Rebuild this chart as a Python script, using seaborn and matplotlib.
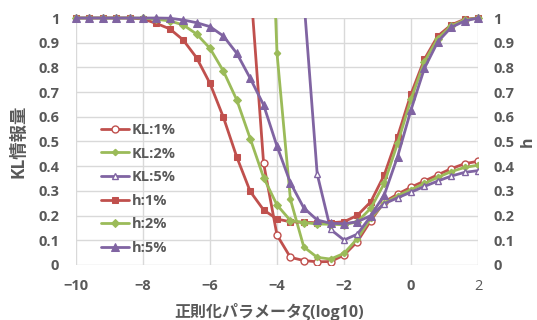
import matplotlib
matplotlib.use("Agg")
import matplotlib.pyplot as plt
from matplotlib.ticker import FuncFormatter, MultipleLocator
import seaborn as sns
import numpy as np

sns.set_style("white")
plt.rcParams['font.family'] = ['Open Sans', 'Noto Sans CJK JP', 'DejaVu Sans']

# ---- data ----
x_log = [-10, -9.6, -9.2, -8.8, -8.4, -8.0, -7.6, -7.2, -6.8, -6.4, -6.0,
         -5.6, -5.2, -4.8, -4.4, -4.0, -3.6, -3.2, -2.8, -2.4, -2.0,
         -1.6, -1.2, -0.8, -0.4, 0.0, 0.4, 0.8, 1.2, 1.6, 2.0]

kl_1 = [60, 50, 40, 32, 26, 21, 17, 13.5, 10.5, 8, 6, 4.4, 3.0, 1.15,
        0.412, 0.121, 0.031, 0.018, 0.013, 0.014, 0.04,
        0.095, 0.18, 0.255, 0.287, 0.315, 0.34, 0.365, 0.39, 0.41, 0.42]
kl_2 = [80, 65, 52, 42, 34, 27, 22, 17.5, 14, 11, 8.5, 6.5, 4.8, 3.4,
        2.3, 0.857, 0.266, 0.073, 0.031, 0.024, 0.047,
        0.107, 0.19, 0.25, 0.28, 0.305, 0.33, 0.355, 0.378, 0.395, 0.404]
kl_5 = [120, 100, 84, 70, 58, 48, 40, 33, 27, 22, 18, 14.5, 11.5, 9,
        6.8, 4.8, 2.9, 1.08, 0.368, 0.144, 0.101,
        0.125, 0.198, 0.248, 0.272, 0.295, 0.318, 0.34, 0.36, 0.375, 0.382]
h_1 = [1, 1, 1, 1, 1, 0.996, 0.978, 0.956, 0.911, 0.839, 0.735,
       0.598, 0.437, 0.298, 0.223, 0.186, 0.175, 0.173, 0.171, 0.171, 0.175,
       0.201, 0.256, 0.364, 0.52, 0.692, 0.833, 0.927, 0.972, 0.995, 1.0]
h_2 = [1, 1, 1, 1, 1, 0.999, 0.995, 0.988, 0.972, 0.935, 0.877,
       0.785, 0.668, 0.512, 0.354, 0.243, 0.18, 0.172, 0.166, 0.165, 0.163,
       0.175, 0.23, 0.33, 0.493, 0.671, 0.823, 0.917, 0.968, 0.992, 1.0]
h_5 = [1, 1, 1, 1, 1, 1, 1, 0.999, 0.992, 0.981, 0.965,
       0.927, 0.857, 0.756, 0.648, 0.481, 0.333, 0.231, 0.182, 0.169, 0.167,
       0.175, 0.2, 0.283, 0.439, 0.628, 0.796, 0.904, 0.962, 0.988, 1.0]

labels_kl = ["KL:1%", "KL:2%", "KL:5%"]
labels_h = ["h:1%", "h:2%", "h:5%"]

RED, GREEN, PURPLE = "#C0504D", "#9BBB59", "#8064A2"
GREY_TXT = "#595959"
GRID = "#D9D9D9"

fig = plt.figure(figsize=(5.37, 3.2), dpi=100)
ax = fig.add_axes([76/537, 1-265/320, (478-76)/537, (265-18)/320])
ax2 = ax.twinx()

kl_styles = [
    (kl_1, RED, dict(marker='o', ms=5, mfc='white', mec=RED, mew=1)),
    (kl_2, GREEN, dict(marker='D', ms=3.2, mfc=GREEN, mec=GREEN, mew=1)),
    (kl_5, PURPLE, dict(marker='^', ms=5, mfc='white', mec=PURPLE, mew=1)),
]
for (vals, col, mk), lab in zip(kl_styles, labels_kl):
    sns.lineplot(x=x_log, y=vals, ax=ax, color=col, lw=2, label=lab,
                 legend=False, clip_on=True, **mk)

h_styles = [
    (h_1, RED, dict(marker='s', ms=5, mfc=RED, mec=RED)),
    (h_2, GREEN, dict(marker='D', ms=4, mfc=GREEN, mec=GREEN)),
    (h_5, PURPLE, dict(marker='^', ms=5.5, mfc=PURPLE, mec=PURPLE)),
]
for (vals, col, mk), lab in zip(h_styles, labels_h):
    sns.lineplot(x=x_log, y=vals, ax=ax2, color=col, lw=2, label=lab,
                 legend=False, clip_on=False, **mk)

for a in (ax, ax2):
    a.set_xlim(-10, 2)
    a.set_ylim(0, 1)
    a.yaxis.set_major_locator(MultipleLocator(0.1))
    a.yaxis.set_major_formatter(FuncFormatter(lambda v, p: f"{v:g}"))
    for s in a.spines.values():
        s.set_visible(False)
    a.tick_params(length=0, labelsize=10.5, labelcolor=GREY_TXT)
    for t in a.get_yticklabels() + a.get_xticklabels():
        t.set_fontweight('bold')

ax.xaxis.set_major_locator(MultipleLocator(2))
ax.grid(True, color=GRID, lw=1)
ax.set_axisbelow(True)
ax.tick_params(axis='y', pad=12)
ax.tick_params(axis='x', pad=10)
ax2.tick_params(axis='y', pad=11)
ax2.grid(False)

ax.set_xlabel("正則化パラメータζ(log10)", fontsize=11.5, fontweight='bold',
              color=GREY_TXT, labelpad=3)
ax.xaxis.set_label_coords(0.48, -0.155)
ax.set_ylabel("KL情報量", fontsize=12.5, fontweight='bold', color=GREY_TXT,
              labelpad=8)
ax2.set_ylabel("h", fontsize=11.5, fontweight='bold', color=GREY_TXT,
               labelpad=4)

h1, l1 = ax.get_legend_handles_labels()
h2, l2 = ax2.get_legend_handles_labels()
leg = ax2.legend(h1 + h2, l1 + l2, loc='center left',
                 bbox_to_anchor=(101/537, 1-189/320), bbox_transform=fig.transFigure,
                 frameon=False, borderpad=0, borderaxespad=0,
                 handlelength=1.9, handletextpad=0.2, labelspacing=0.66,
                 prop=dict(size=10.5, weight='bold'))
for t in leg.get_texts():
    t.set_color(GREY_TXT)

fig.savefig("out.png", dpi=100)
